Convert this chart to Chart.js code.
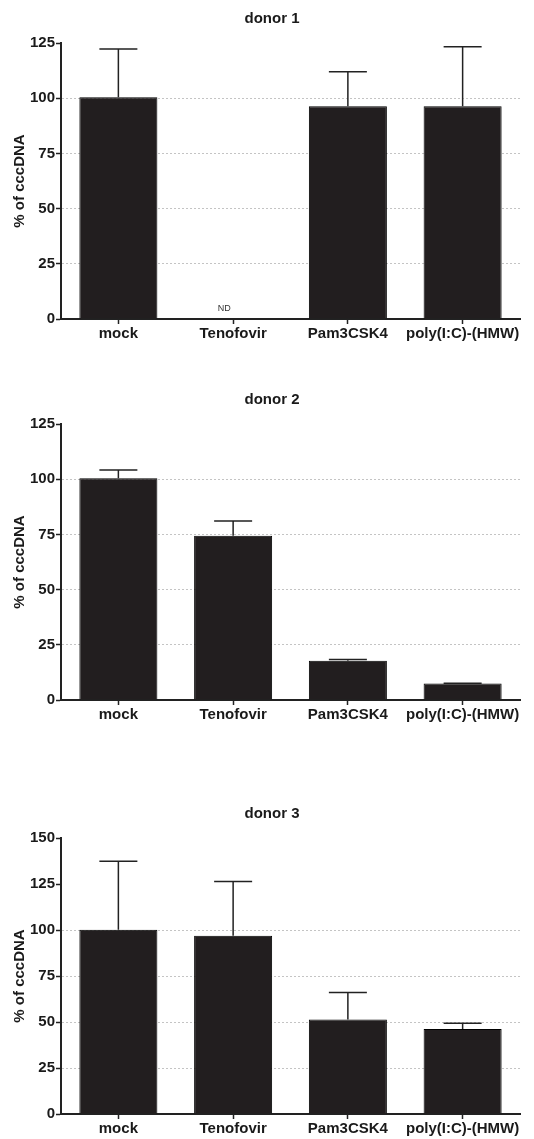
<!DOCTYPE html>
<html><head><meta charset="utf-8">
<script src="https://cdn.jsdelivr.net/npm/chart.js@4"></script>
<style>
html,body{margin:0;padding:0;background:#fff;width:534px;height:1139px;overflow:hidden;position:relative}
.box{position:absolute;left:0;width:534px;height:345px}
</style></head><body>
<div class="box" style="top:0"><canvas id="c1"></canvas></div>
<div class="box" style="top:381px"><canvas id="c2"></canvas></div>
<div class="box" style="top:795px"><canvas id="c3"></canvas></div>
<script>
const categories = ['mock', 'Tenofovir', 'Pam3CSK4', 'poly(I:C)-(HMW)'];
const titles = ['donor 1', 'donor 2', 'donor 3'];
const yAxisTitle = '% of cccDNA';

const donor1Values = [100.4, null, 96.3, 96.3];
const donor1Upper  = [122.3, null, 112.0, 123.3];
const donor1Notes  = ['', 'ND', '', ''];

const donor2Values = [100.4, 74.4, 17.8, 7.5];
const donor2Upper  = [104.2, 81.1, 18.3, 7.6];
const donor2Notes  = ['', '', '', ''];

const donor3Values = [100.2, 96.9, 51.4, 46.2];
const donor3Upper  = [137.3, 126.4, 66.1, 49.3];
const donor3Notes  = ['', '', '', ''];

const yTicks1 = [0, 25, 50, 75, 100, 125];
const yTicks2 = [0, 25, 50, 75, 100, 125];
const yTicks3 = [0, 25, 50, 75, 100, 125, 150];

const FONT = '"Liberation Sans", Arial, Helvetica, sans-serif';
const INK = '#1a1a1a';

const errBars = {
  id: 'errbars',
  afterDatasetsDraw(chart, args, opts) {
    const ctx = chart.ctx;
    const xs = chart.scales.x, ys = chart.scales.y;
    ctx.save();
    ctx.strokeStyle = '#222';
    ctx.lineWidth = 1.5;
    (opts.upper || []).forEach((u, i) => {
      const v = chart.data.datasets[0].data[i];
      if (u == null || v == null) return;
      const x = xs.getPixelForValue(i);
      const y0 = ys.getPixelForValue(v);
      const y1 = ys.getPixelForValue(u);
      ctx.beginPath();
      ctx.moveTo(x, y0);
      ctx.lineTo(x, y1);
      ctx.moveTo(x - 19, y1);
      ctx.lineTo(x + 19, y1);
      ctx.stroke();
    });
    ctx.fillStyle = '#333';
    ctx.font = '9px ' + FONT;
    ctx.textAlign = 'center';
    ctx.textBaseline = 'middle';
    (opts.notes || []).forEach((t, i) => {
      if (!t) return;
      ctx.fillText(t, xs.getPixelForValue(i) - 9, ys.getPixelForValue(0) - 10);
    });
    ctx.restore();
  }
};

function makeChart(id, title, values, upper, notes, ticks) {
  new Chart(document.getElementById(id), {
    type: 'bar',
    data: {
      labels: categories,
      datasets: [{
        data: values,
        backgroundColor: '#221e1f',
        borderColor: '#000',
        borderWidth: 1,
        categoryPercentage: 1,
        barPercentage: 0.68
      }]
    },
    plugins: [errBars],
    options: {
      responsive: true,
      maintainAspectRatio: false,
      animation: false,
      layout: { padding: { left: 24, right: 14, top: 0, bottom: 0 } },
      plugins: {
        legend: { display: false },
        tooltip: { enabled: false },
        title: {
          display: true, text: title, color: INK,
          font: { family: FONT, size: 15, weight: 'bold' },
          padding: { top: 10, bottom: 15 }
        },
        errbars: { upper: upper, notes: notes }
      },
      scales: {
        x: {
          afterFit(scale) { scale.height = 26; },
          grid: {
            offset: false, drawOnChartArea: false, drawTicks: true,
            tickLength: 5, tickColor: '#222', tickWidth: 1.5
          },
          border: { display: true, color: '#222', width: 2 },
          ticks: {
            color: INK, padding: 1, maxRotation: 0, minRotation: 0, autoSkip: false,
            font: { family: FONT, size: 15, weight: 'bold' }
          }
        },
        y: {
          min: ticks[0], max: ticks[ticks.length - 1],
          afterFit(scale) { scale.width = 37; },
          afterBuildTicks(scale) { scale.ticks = ticks.map(v => ({ value: v })); },
          grid: {
            color: c => (c.tick && c.tick.value > 0 && c.tick.value <= 100) ? '#c4c4c4' : 'rgba(0,0,0,0)',
            lineWidth: 1, drawTicks: true, tickLength: 5, tickColor: '#222', tickWidth: 1.5
          },
          border: { display: true, color: '#222', width: 2, dash: [2, 2] },
          ticks: {
            color: INK, padding: 1,
            font: { family: FONT, size: 15, weight: 'bold' }
          },
          title: {
            display: true, text: yAxisTitle, color: INK,
            font: { family: FONT, size: 15, weight: 'bold' },
            padding: { top: -13, bottom: 0 }
          }
        }
      }
    }
  });
}

makeChart('c1', titles[0], donor1Values, donor1Upper, donor1Notes, yTicks1);
makeChart('c2', titles[1], donor2Values, donor2Upper, donor2Notes, yTicks2);
makeChart('c3', titles[2], donor3Values, donor3Upper, donor3Notes, yTicks3);
</script>
</body></html>
